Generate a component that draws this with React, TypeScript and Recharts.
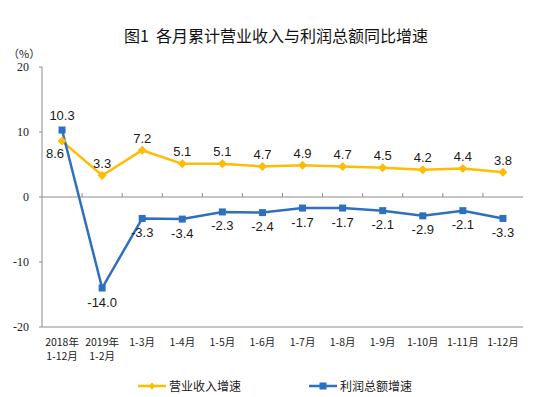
import React from "react";
import {
    LineChart,
    Line,
    XAxis,
    YAxis,
    ReferenceLine,
    LabelList,
    Legend
} from "recharts";

const categories = [
    "2018年\n1-12月", "2019年\n1-2月", "1-3月", "1-4月", "1-5月", "1-6月",
    "1-7月", "1-8月", "1-9月", "1-10月", "1-11月", "1-12月"
];
const revenueGrowth = [8.6, 3.3, 7.2, 5.1, 5.1, 4.7, 4.9, 4.7, 4.5, 4.2, 4.4, 3.8];
const profitGrowth = [10.3, -14.0, -3.3, -3.4, -2.3, -2.4, -1.7, -1.7, -2.1, -2.9, -2.1, -3.3];
const yTicks = [-20, -10, 0, 10, 20];

const ORANGE = "#FFBC00";
const BLUE = "#2E6FBF";
const BOX = "#8c8c8c";
const CJK = "'Noto Sans CJK SC', 'Noto Sans', sans-serif";

const data = categories.map((name, i) => ({
    name,
    revenue: revenueGrowth[i],
    profit: profitGrowth[i]
}));

function DiamondDot(props: any) {
    const { cx, cy } = props;
    if (cx == null || cy == null) return <g />;
    const r = 4.5;
    return <polygon points={`${cx},${cy - r} ${cx + r},${cy} ${cx},${cy + r} ${cx - r},${cy}`} fill={ORANGE} />;
}

function SquareDot(props: any) {
    const { cx, cy } = props;
    if (cx == null || cy == null) return <g />;
    return <rect x={cx - 3.5} y={cy - 3.5} width={7} height={7} fill={BLUE} />;
}

function CategoryTick(props: any) {
    const { x, y, payload } = props;
    const lines = String(payload.value).split("\n");
    return (
        <text x={x} y={y} textAnchor="middle" fontSize={10.5} fontFamily={CJK} fill="#222">
            {lines.map((l, i) => (
                <tspan key={i} x={x} dy={i === 0 ? 11 : 14}>{l}</tspan>
            ))}
        </text>
    );
}

// zero line with small tick marks between categories
function ZeroLine(props: any) {
    const { x1, x2, y1 } = props;
    const n = categories.length;
    const step = (x2 - x1) / n;
    const ticks = [];
    for (let i = 1; i < n; i++) {
        const tx = x1 + step * i;
        ticks.push(<line key={i} x1={tx} x2={tx} y1={y1} y2={y1 - 4} stroke={BOX} strokeWidth={1} />);
    }
    return (
        <g>
            <line x1={x1} x2={x2} y1={y1} y2={y1} stroke={BOX} strokeWidth={1} />
            {ticks}
        </g>
    );
}

function revenueLabel(props: any) {
    const { x, y, value, index } = props;
    let dx = 0;
    let dy = -12;
    if (index === 0) {
        dx = -7;
        dy = 12;
    }
    return (
        <text x={x + dx} y={y + dy} textAnchor="middle" dominantBaseline="central"
            fontSize={13} fontFamily="'Liberation Sans', Arial, sans-serif" fill="#1a1a1a">
            {Number(value).toFixed(1)}
        </text>
    );
}

function profitLabel(props: any) {
    const { x, y, value, index } = props;
    const dy = index === 0 ? -15 : 14;
    return (
        <text x={x} y={y + dy} textAnchor="middle" dominantBaseline="central"
            fontSize={13} fontFamily="'Liberation Sans', Arial, sans-serif" fill="#1a1a1a">
            {Number(value).toFixed(1)}
        </text>
    );
}

function LegendContent() {
    const item = (label: string, color: string, marker: React.ReactNode) => (
        <div style={{ display: "flex", alignItems: "center", margin: "0 34px" }}>
            <svg width={28} height={10}>
                <line x1={0} x2={28} y1={5} y2={5} stroke={color} strokeWidth={2.5} />
                {marker}
            </svg>
            <span style={{ marginLeft: 3, fontSize: 12, fontFamily: CJK, color: "#222" }}>{label}</span>
        </div>
    );
    return (
        <div style={{ display: "flex", justifyContent: "center", alignItems: "center" }}>
            {item("营业收入增速", ORANGE, <polygon points="14,1.5 17.5,5 14,8.5 10.5,5" fill={ORANGE} />)}
            {item("利润总额增速", BLUE, <rect x={10.5} y={1.5} width={7} height={7} fill={BLUE} />)}
        </div>
    );
}

export default function App() {
    return (
        <div style={{ position: "absolute", left: 0, top: 0, width: 550, height: 397, background: "#fff" }}>
            <div style={{
                position: "absolute", top: 23, left: 0, width: 552, textAlign: "center",
                fontSize: 16, fontFamily: CJK, color: "#111"
            }}>
                图1&nbsp;&nbsp;各月累计营业收入与利润总额同比增速
            </div>
            <div style={{
                position: "absolute", top: 45, left: 8, fontSize: 11,
                fontFamily: CJK, color: "#222"
            }}>
                （%）
            </div>
            <LineChart width={550} height={397} data={data}
                margin={{ top: 67, right: 27, bottom: 30, left: 0 }}>
                <XAxis dataKey="name" scale="band" interval={0} tick={<CategoryTick />} tickLine={false}
                    axisLine={{ stroke: BOX }} height={40} />
                <XAxis xAxisId="top" dataKey="name" scale="band" orientation="top" tick={false} tickLine={false}
                    axisLine={{ stroke: BOX }} height={0} />
                <YAxis domain={[-20, 20]} ticks={yTicks} interval={0} tickLine={{ stroke: BOX }} tickSize={3}
                    axisLine={{ stroke: BOX }} width={42} tickMargin={10}
                    tick={{ fontSize: 12, fill: "#222", fontFamily: "'Liberation Serif', serif" }} />
                <YAxis yAxisId="right" orientation="right" domain={[-20, 20]} tick={false}
                    tickLine={false} axisLine={{ stroke: BOX }} width={0} />
                <ReferenceLine y={0} shape={<ZeroLine />} />
                <Line dataKey="revenue" type="linear" stroke={ORANGE} strokeWidth={2.5}
                    dot={<DiamondDot />} activeDot={false} isAnimationActive={false}>
                    <LabelList dataKey="revenue" content={revenueLabel} />
                </Line>
                <Line dataKey="profit" type="linear" stroke={BLUE} strokeWidth={2.5}
                    dot={<SquareDot />} activeDot={false} isAnimationActive={false}>
                    <LabelList dataKey="profit" content={profitLabel} />
                </Line>
                <Legend layout="horizontal" verticalAlign="middle" align="center"
                    content={<LegendContent />}
                    wrapperStyle={{ top: 377, left: 0, width: 550, height: 18 }} />
            </LineChart>
        </div>
    );
}
